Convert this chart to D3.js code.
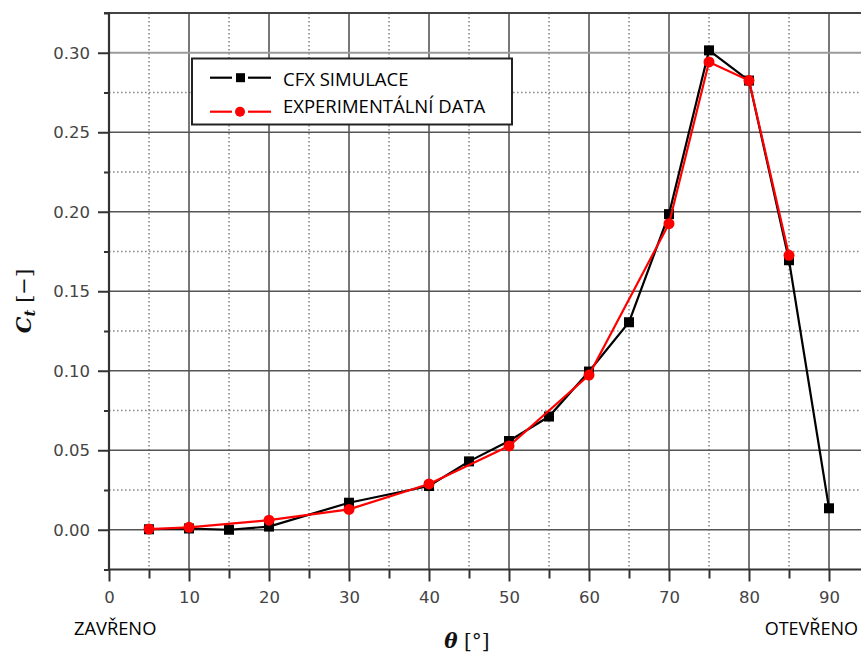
<!DOCTYPE html>
<html>
<head>
<meta charset="utf-8">
<script src="https://cdn.jsdelivr.net/npm/d3@7"></script>
<style>
  body { margin: 0; background: #fff; }
  svg { display: block; }
</style>
</head>
<body>
<div id="chart"></div>
<script>
// CFX simulation points
const cfxTheta = [5, 10, 15, 20, 30, 40, 45, 50, 55, 60, 65, 70, 75, 80, 85, 90];
const cfxCt = [0.0003, 0.0008, 0.0000, 0.002, 0.017, 0.0275, 0.043, 0.0558, 0.0712, 0.0995, 0.1305, 0.1985, 0.3015, 0.2825, 0.1695, 0.0135];

// experimental points
const expTheta = [5, 10, 20, 30, 40, 50, 60, 70, 75, 80, 85];
const expCt = [0.0004, 0.0015, 0.006, 0.0128, 0.0288, 0.0527, 0.0973, 0.1925, 0.2942, 0.2825, 0.1726];

const xMajor = [0, 10, 20, 30, 40, 50, 60, 70, 80, 90];
const xMinor = [5, 15, 25, 35, 45, 55, 65, 75, 85];
const yMajor = [0, 0.05, 0.10, 0.15, 0.20, 0.25, 0.30];
const yMinor = [-0.025, 0.025, 0.075, 0.125, 0.175, 0.225, 0.275, 0.325];

const legendLabels = ["CFX SIMULACE", "EXPERIMENTÁLNÍ DATA"];

const width = 861;
const height = 653;

const svg = d3.select("#chart")
    .append("svg")
    .attr("width", width)
    .attr("height", height);

const x = d3.scaleLinear()
    .domain([0, 95])
    .range([109, 869]);

const y = d3.scaleLinear()
    .domain([-0.025, 0.325])
    .range([569.5, 13]);

const plotTop = y(0.325), plotBottom = y(-0.025);

// dotted minor grid
svg.append("g")
    .selectAll("line")
    .data(xMinor)
    .join("line")
    .attr("x1", d => x(d)).attr("x2", d => x(d))
    .attr("y1", plotTop).attr("y2", plotBottom)
    .attr("stroke", "#8a8a8a")
    .attr("stroke-width", 1.6)
    .attr("stroke-dasharray", "1.6,2.4");

svg.append("g")
    .selectAll("line")
    .data(yMinor.slice(1, -1))
    .join("line")
    .attr("x1", x(0)).attr("x2", width)
    .attr("y1", d => y(d)).attr("y2", d => y(d))
    .attr("stroke", "#8a8a8a")
    .attr("stroke-width", 1.6)
    .attr("stroke-dasharray", "1.6,2.4");

// solid major grid
svg.append("g")
    .selectAll("line")
    .data(xMajor.slice(1))
    .join("line")
    .attr("x1", d => x(d)).attr("x2", d => x(d))
    .attr("y1", plotTop).attr("y2", plotBottom)
    .attr("stroke", "#555")
    .attr("stroke-width", 1.6);

svg.append("g")
    .selectAll("line")
    .data(yMajor)
    .join("line")
    .attr("x1", x(0)).attr("x2", width)
    .attr("y1", d => y(d)).attr("y2", d => y(d))
    .attr("stroke", d => d === 0.30 ? "#9a9a9a" : "#555")
    .attr("stroke-width", d => d === 0.30 ? 2.2 : 1.6);

// frame top
svg.append("line")
    .attr("x1", x(0) - 5).attr("x2", width)
    .attr("y1", plotTop).attr("y2", plotTop)
    .attr("stroke", "#444").attr("stroke-width", 2.2);

// axes
const yAxis = d3.axisLeft(y)
    .tickValues(yMajor)
    .tickFormat(d3.format(".2f"))
    .tickSize(11)
    .tickPadding(8);

const yg = svg.append("g")
    .attr("transform", `translate(${x(0)},0)`)
    .call(yAxis);
yg.select(".domain").remove();
yg.selectAll(".tick line").attr("stroke", "#333").attr("stroke-width", 2);
yg.selectAll("text")
    .attr("fill", "#444")
    .style("font-family", "DejaVu Sans")
    .style("font-size", "16.5px");

svg.append("g")
    .attr("transform", `translate(${x(0)},0)`)
    .call(d3.axisLeft(y).tickValues(yMinor).tickSize(5).tickFormat(""))
    .call(g => g.select(".domain").remove())
    .selectAll(".tick line").attr("stroke", "#333").attr("stroke-width", 2);

const xAxis = d3.axisBottom(x)
    .tickValues(xMajor)
    .tickFormat(d3.format("d"))
    .tickSize(12)
    .tickPadding(10);

const xg = svg.append("g")
    .attr("transform", `translate(0,${plotBottom})`)
    .call(xAxis);
xg.select(".domain").remove();
xg.selectAll(".tick line").attr("stroke", "#333").attr("stroke-width", 2);
xg.selectAll("text")
    .attr("fill", "#444")
    .style("font-family", "DejaVu Sans")
    .style("font-size", "16.5px");

svg.append("g")
    .attr("transform", `translate(0,${plotBottom})`)
    .call(d3.axisBottom(x).tickValues(xMinor).tickSize(9).tickFormat(""))
    .call(g => g.select(".domain").remove())
    .selectAll(".tick line").attr("stroke", "#333").attr("stroke-width", 2);

// axis lines
svg.append("line")
    .attr("x1", x(0)).attr("x2", x(0))
    .attr("y1", plotTop - 1).attr("y2", plotBottom + 1)
    .attr("stroke", "#333").attr("stroke-width", 2.2);
svg.append("line")
    .attr("x1", x(0)).attr("x2", width)
    .attr("y1", plotBottom).attr("y2", plotBottom)
    .attr("stroke", "#333").attr("stroke-width", 2.2);

// series
const cfx = cfxTheta.map((t, i) => ({ t, v: cfxCt[i] }));
const exp = expTheta.map((t, i) => ({ t, v: expCt[i] }));

const line = d3.line().x(d => x(d.t)).y(d => y(d.v));

svg.append("path")
    .datum(cfx)
    .attr("d", line)
    .attr("fill", "none")
    .attr("stroke", "#000")
    .attr("stroke-width", 2.2);

svg.append("g")
    .selectAll("rect")
    .data(cfx)
    .join("rect")
    .attr("x", d => x(d.t) - 5)
    .attr("y", d => y(d.v) - 5)
    .attr("width", 10)
    .attr("height", 10)
    .attr("fill", "#000");

svg.append("path")
    .datum(exp)
    .attr("d", line)
    .attr("fill", "none")
    .attr("stroke", "#f00")
    .attr("stroke-width", 2.2);

svg.append("g")
    .selectAll("circle")
    .data(exp)
    .join("circle")
    .attr("cx", d => x(d.t))
    .attr("cy", d => y(d.v))
    .attr("r", 5.5)
    .attr("fill", "#f00");

// legend
const legend = svg.append("g");
legend.append("rect")
    .attr("x", 192).attr("y", 58.5)
    .attr("width", 320).attr("height", 66)
    .attr("fill", "#fff")
    .attr("stroke", "#222")
    .attr("stroke-width", 2);

const legendColors = ["#000", "#f00"];
const legendMarkY = [77.7, 111.7];
const legendTextY = [85.7, 113.3];
legendLabels.forEach((label, i) => {
    const ly = legendMarkY[i];
    const c = legendColors[i];
    legend.append("line").attr("x1", 210).attr("x2", 232).attr("y1", ly).attr("y2", ly)
        .attr("stroke", c).attr("stroke-width", 2.2);
    legend.append("line").attr("x1", 248).attr("x2", 271).attr("y1", ly).attr("y2", ly)
        .attr("stroke", c).attr("stroke-width", 2.2);
    if (i === 0) {
        legend.append("rect").attr("x", 236).attr("y", ly - 4.5)
            .attr("width", 9).attr("height", 9).attr("fill", c);
    } else {
        legend.append("circle").attr("cx", 240).attr("cy", ly).attr("r", 5).attr("fill", c);
    }
    legend.append("text")
        .attr("x", 283).attr("y", legendTextY[i])
        .style("font-family", "Open Sans")
        .style("font-size", "18.5px")
        .attr("fill", "#000")
        .text(label);
});

// labels
svg.append("text")
    .attr("x", 74).attr("y", 635)
    .style("font-family", "Open Sans")
    .style("font-size", "18.3px")
    .attr("fill", "#000")
    .text("ZAVŘENO");

svg.append("text")
    .attr("x", 858).attr("y", 635)
    .attr("text-anchor", "end")
    .style("font-family", "Open Sans")
    .style("font-size", "18px")
    .attr("fill", "#000")
    .text("OTEVŘENO");

const xt = svg.append("text")
    .attr("x", 467).attr("y", 648)
    .attr("text-anchor", "middle")
    .style("font-family", "DejaVu Serif")
    .style("font-size", "20px")
    .attr("fill", "#111");
xt.append("tspan").style("font-weight", "bold").style("font-style", "italic").text("θ");
xt.append("tspan").text(" [°]");

const yt = svg.append("text")
    .attr("transform", "translate(31,301) rotate(-90)")
    .attr("text-anchor", "middle")
    .style("font-family", "DejaVu Serif")
    .style("font-size", "21px")
    .attr("fill", "#111");
yt.append("tspan").style("font-weight", "bold").style("font-style", "italic").text("C");
yt.append("tspan").style("font-weight", "bold").style("font-style", "italic")
    .style("font-size", "15px").attr("dy", 4).text("t");
yt.append("tspan").attr("dy", -4).text(" [−]");
</script>
</body>
</html>
